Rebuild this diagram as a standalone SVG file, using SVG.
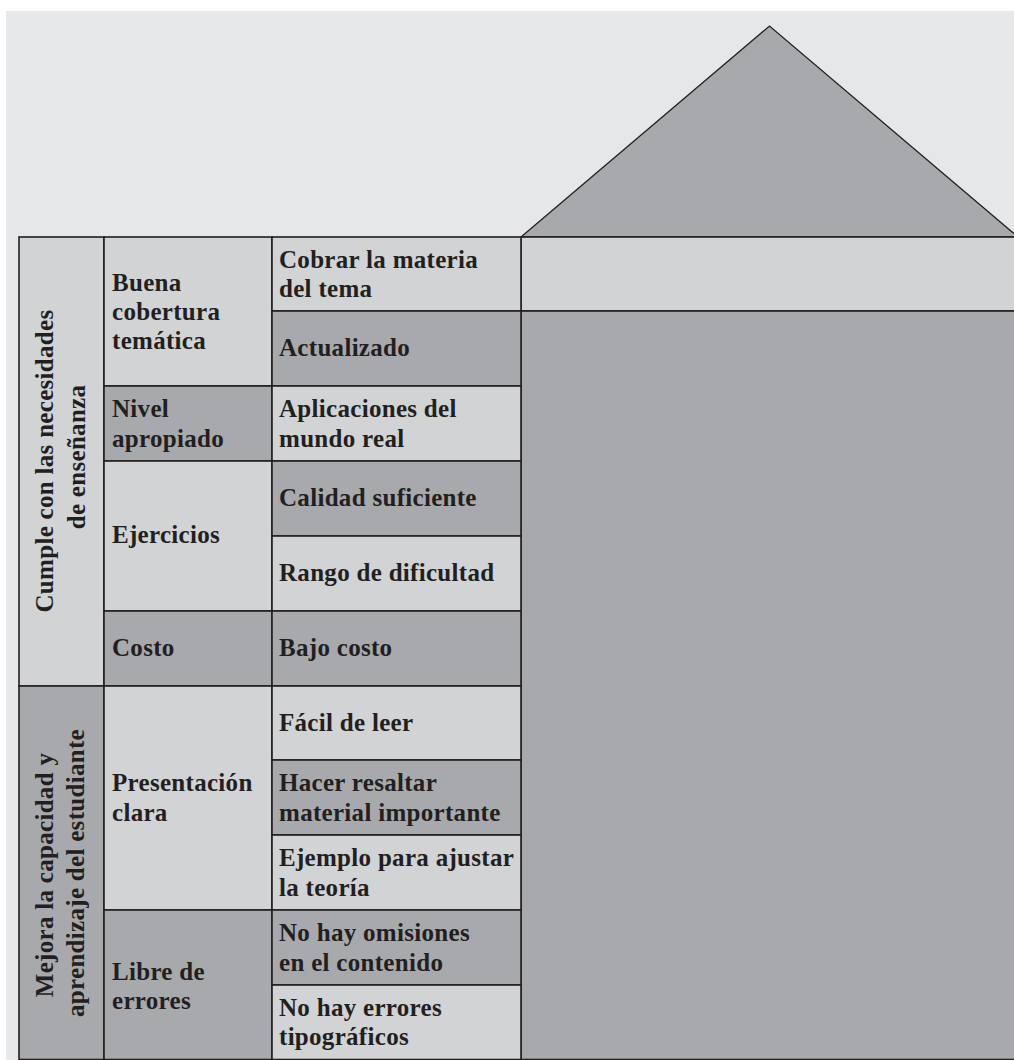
<svg xmlns="http://www.w3.org/2000/svg" width="1014" height="1060" viewBox="0 0 1014 1060">
<style>
.l{fill:#d1d3d4;stroke:#231f20;stroke-width:1.6}
.d{fill:#a7a9ac;stroke:#231f20;stroke-width:1.6}
.roof{fill:#a7a9ac;stroke:#231f20;stroke-width:1.3;stroke-linejoin:miter}
text{font-family:"Liberation Serif","Times New Roman",serif;font-weight:bold;font-size:25px;fill:#231f20;letter-spacing:0.3px}
.v{text-anchor:middle}
</style>
<rect x="0" y="0" width="1014" height="1060" fill="#ffffff"/>
<rect x="6" y="11" width="1010" height="1050" fill="#e6e7e8"/>
<g id="roof"><polygon class="roof" points="521,237 769.5,26 1018,237"/></g>
<g id="matrix">
<rect class="l" x="521" y="237" width="500" height="74"/>
<rect class="d" x="521" y="311" width="500" height="748.5"/>
</g>
<g id="cat-cumple">
<rect class="l" x="19" y="237" width="85" height="449"/>
<text class="v" transform="translate(53,461) rotate(-90)">Cumple con las necesidades</text>
<text class="v" transform="translate(85,457) rotate(-90)">de enseñanza</text>
</g>
<g id="cat-mejora">
<rect class="d" x="19" y="686" width="85" height="373.5"/>
<text class="v" transform="translate(53,875) rotate(-90)">Mejora la capacidad y</text>
<text class="v" transform="translate(84,873) rotate(-90)">aprendizaje del estudiante</text>
</g>
<g id="sub-buena"><rect class="l" x="104" y="237" width="168" height="149"/>
<text x="112" y="291">Buena</text><text x="112" y="320">cobertura</text><text x="112" y="349">temática</text></g>
<g id="sub-nivel"><rect class="d" x="104" y="386" width="168" height="75"/>
<text x="112" y="417">Nivel</text><text x="112" y="447">apropiado</text></g>
<g id="sub-ejercicios"><rect class="l" x="104" y="461" width="168" height="150"/>
<text x="112" y="543">Ejercicios</text></g>
<g id="sub-costo"><rect class="d" x="104" y="611" width="168" height="75"/>
<text x="112" y="656">Costo</text></g>
<g id="sub-presentacion"><rect class="l" x="104" y="686" width="168" height="224"/>
<text x="112" y="791">Presentación</text><text x="112" y="821">clara</text></g>
<g id="sub-libre"><rect class="d" x="104" y="910" width="168" height="149.5"/>
<text x="112" y="980">Libre de</text><text x="112" y="1009">errores</text></g>
<g id="it-cobrar"><rect class="l" x="272" y="237" width="249" height="74"/>
<text x="279" y="268">Cobrar la materia</text><text x="279" y="297">del tema</text></g>
<g id="it-actualizado"><rect class="d" x="272" y="311" width="249" height="75"/>
<text x="279" y="355.5">Actualizado</text></g>
<g id="it-aplicaciones"><rect class="l" x="272" y="386" width="249" height="75"/>
<text x="279" y="417">Aplicaciones del</text><text x="279" y="447">mundo real</text></g>
<g id="it-calidad"><rect class="d" x="272" y="461" width="249" height="75"/>
<text x="279" y="505.5">Calidad suficiente</text></g>
<g id="it-rango"><rect class="l" x="272" y="536" width="249" height="75"/>
<text x="279" y="580.5">Rango de dificultad</text></g>
<g id="it-bajo"><rect class="d" x="272" y="611" width="249" height="75"/>
<text x="279" y="655.5">Bajo costo</text></g>
<g id="it-facil"><rect class="l" x="272" y="686" width="249" height="74"/>
<text x="279" y="730.5">Fácil de leer</text></g>
<g id="it-hacer"><rect class="d" x="272" y="760" width="249" height="75"/>
<text x="279" y="791">Hacer resaltar</text><text x="279" y="821">material importante</text></g>
<g id="it-ejemplo"><rect class="l" x="272" y="835" width="249" height="75"/>
<text x="279" y="866">Ejemplo para ajustar</text><text x="279" y="896">la teoría</text></g>
<g id="it-omisiones"><rect class="d" x="272" y="910" width="249" height="75"/>
<text x="279" y="941">No hay omisiones</text><text x="279" y="971">en el contenido</text></g>
<g id="it-errores"><rect class="l" x="272" y="985" width="249" height="74.5"/>
<text x="279" y="1016">No hay errores</text><text x="279" y="1045">tipográficos</text></g>
<g id="connectors"></g>
</svg>
